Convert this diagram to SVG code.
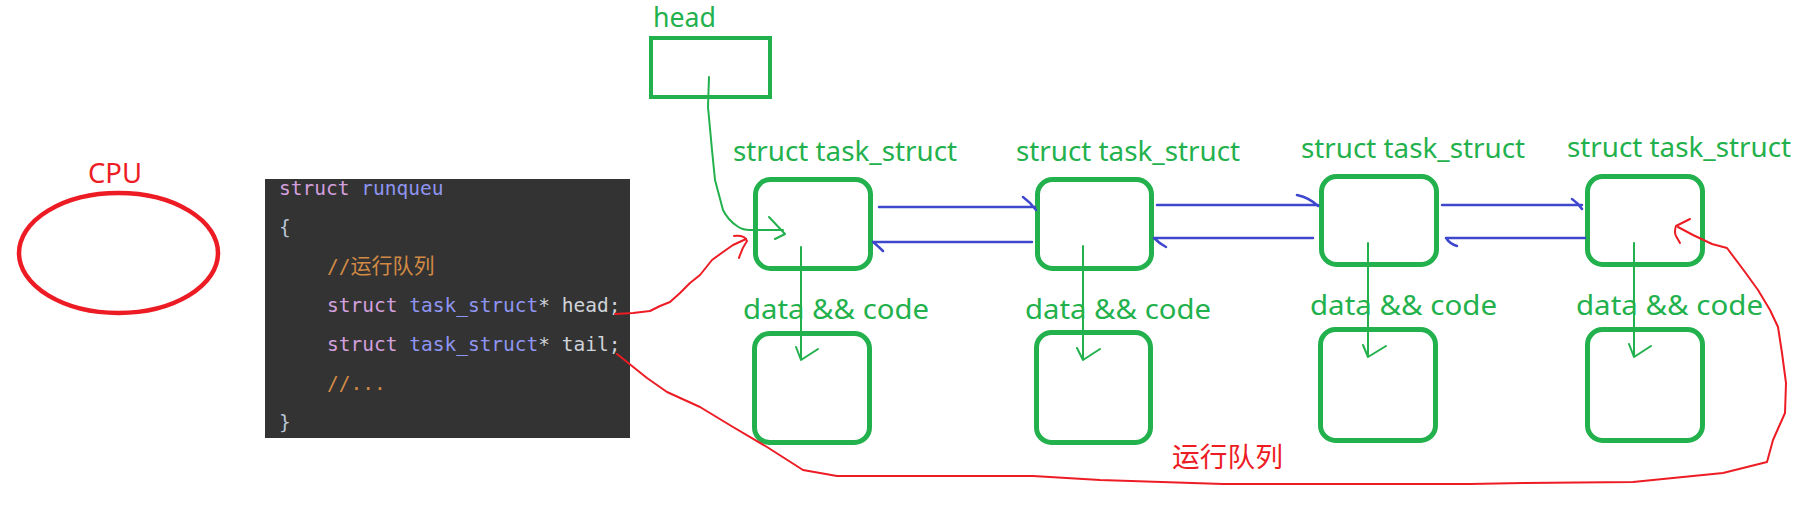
<svg xmlns="http://www.w3.org/2000/svg" width="1814" height="522" viewBox="0 0 1814 522">
<defs>
<style>
.lbl{font-family:"Noto Sans","Open Sans","Noto Sans CJK SC",sans-serif;font-size:27px;fill:#22B14C}
.red{fill:#ED1C24}
.box{fill:none;stroke:#22B14C;stroke-width:5}
.code{font-family:"DejaVu Sans Mono","Liberation Mono","Noto Sans CJK SC",monospace;font-size:19.5px}
.kw{fill:#D3A0DE}
.ty{fill:#8F95F2}
.id{fill:#D0D4DA}
.br{fill:#B9C6D6}
.cm{fill:#D28A45}
.g{fill:none;stroke:#22B14C;stroke-width:2;stroke-linecap:round;stroke-linejoin:round}
.b{fill:none;stroke:#3F48CC;stroke-width:2.5;stroke-linecap:round}
.r{fill:none;stroke:#ED1C24;stroke-width:2;stroke-linecap:round;stroke-linejoin:round}
</style>
</defs>
<rect width="1814" height="522" fill="#FFFFFF"/>

<g id="cpu">
<text class="lbl red" x="88" y="183" textLength="54" lengthAdjust="spacingAndGlyphs">CPU</text>
<ellipse cx="118.5" cy="253" rx="99.5" ry="60" fill="none" stroke="#ED1C24" stroke-width="4.5"/>
</g>

<g id="runqueue">
<rect x="265" y="179" width="365" height="259" fill="#333333"/>
<text class="code" x="279" y="195"><tspan class="kw">struct</tspan><tspan class="ty"> runqueu</tspan></text>
<text class="code br" x="279" y="234">{</text>
<text class="code cm" x="327" y="273">//<tspan font-family="Noto Sans CJK SC,sans-serif" font-size="21">运行队列</tspan></text>
<text class="code" x="327" y="312"><tspan class="kw">struct</tspan><tspan class="ty"> task_struct</tspan><tspan class="id">* head;</tspan></text>
<text class="code" x="327" y="351"><tspan class="kw">struct</tspan><tspan class="ty"> task_struct</tspan><tspan class="id">* tail;</tspan></text>
<text class="code cm" x="327" y="390">//...</text>
<text class="code br" x="279" y="429">}</text>
</g>

<g id="head">
<text class="lbl" x="653" y="27" textLength="63" lengthAdjust="spacingAndGlyphs">head</text>
<rect x="651" y="38" width="119" height="59" fill="none" stroke="#22B14C" stroke-width="4"/>
</g>

<g id="task1">
<text class="lbl" x="733" y="161" textLength="224" lengthAdjust="spacingAndGlyphs">struct task_struct</text>
<rect class="box" x="755.5" y="179.5" width="115" height="89" rx="15"/>
</g>
<g id="task2">
<text class="lbl" x="1016" y="161" textLength="224" lengthAdjust="spacingAndGlyphs">struct task_struct</text>
<rect class="box" x="1037.5" y="179.5" width="114" height="89" rx="15"/>
</g>
<g id="task3">
<text class="lbl" x="1301" y="158" textLength="224" lengthAdjust="spacingAndGlyphs">struct task_struct</text>
<rect class="box" x="1321.5" y="176.5" width="115" height="88" rx="15"/>
</g>
<g id="task4">
<text class="lbl" x="1567" y="157" textLength="224" lengthAdjust="spacingAndGlyphs">struct task_struct</text>
<rect class="box" x="1587.5" y="176.5" width="115" height="88" rx="15"/>
</g>

<g id="data1">
<text class="lbl" x="743" y="319" textLength="186" lengthAdjust="spacingAndGlyphs">data &amp;&amp; code</text>
<rect class="box" x="754.5" y="333.5" width="115" height="109" rx="15"/>
</g>
<g id="data2">
<text class="lbl" x="1025" y="319" textLength="186" lengthAdjust="spacingAndGlyphs">data &amp;&amp; code</text>
<rect class="box" x="1036.5" y="332.5" width="114" height="110" rx="15"/>
</g>
<g id="data3">
<text class="lbl" x="1310" y="315" textLength="187" lengthAdjust="spacingAndGlyphs">data &amp;&amp; code</text>
<rect class="box" x="1320.5" y="329.5" width="115" height="111" rx="15"/>
</g>
<g id="data4">
<text class="lbl" x="1576" y="315" textLength="187" lengthAdjust="spacingAndGlyphs">data &amp;&amp; code</text>
<rect class="box" x="1587.5" y="329.5" width="115" height="111" rx="15"/>
</g>

<g id="queue-label">
<text class="lbl red" x="1172" y="467" font-size="28" textLength="111" lengthAdjust="spacingAndGlyphs">运行队列</text>
</g>

<g id="connectors">
<!-- head pointer to first task -->
<path class="g" d="M709,77 L708,107 L712,150 L715,180 L723,210 Q728,220 737,226 Q742,230 750,230 L783,230"/>
<path class="g" d="M769,217 L785,234 L775,239"/>
<!-- task -> data arrows -->
<path class="g" d="M801,247 L801,360 M796,347 L801,360 L818,349"/>
<path class="g" d="M1083,246 L1083,360 M1077,348 L1083,360 L1100,349"/>
<path class="g" d="M1368,243 L1368,357 M1363,345 L1368,357 L1386,346"/>
<path class="g" d="M1634,243 L1634,357 M1629,344 L1634,357 L1651,346"/>
<!-- blue doubly linked arrows -->
<path class="b" d="M879,207 L1035,207 M1023,197 Q1030,202 1036,210"/>
<path class="b" d="M1032,242 L873,242 M873,242 Q878,246 883,251"/>
<path class="b" d="M1157,205 L1318,205 M1297,195 Q1310,198 1318,206"/>
<path class="b" d="M1313,238 L1154,238 M1154,238 Q1160,244 1166,247"/>
<path class="b" d="M1442,205 L1582,205 M1572,199 Q1578,203 1582,209"/>
<path class="b" d="M1585,238 L1446,238 M1446,238 Q1450,244 1457,246"/>
<!-- runqueue head pointer (red) -->
<path class="r" d="M615,314 L633,313 L650,311 L660,306 L670,302 L680,293 L690,283 L700,275 L712,260 L723,252 L733,245 L746,239"/>
<path class="r" d="M734,236 Q745,235 747,241 Q742,248 739,258"/>
<!-- runqueue tail pointer (red) -->
<path class="r" d="M617,354 L647,378 L667,392 L700,407 L733,427 L767,447 L803,470 L837,476 L1033,476 L1100,480 L1223,484 L1470,484 L1523,483 L1633,482 L1723,473 L1767,462 L1773,440 L1785,413 L1786,383 L1782,353 L1778,327 L1770,310 L1758,290 L1745,272 L1727,248 L1712,244 L1693,235 L1678,227"/>
<path class="r" d="M1690,219 L1676,226 Q1674,232 1676,236 L1680,243"/>
</g>
</svg>
